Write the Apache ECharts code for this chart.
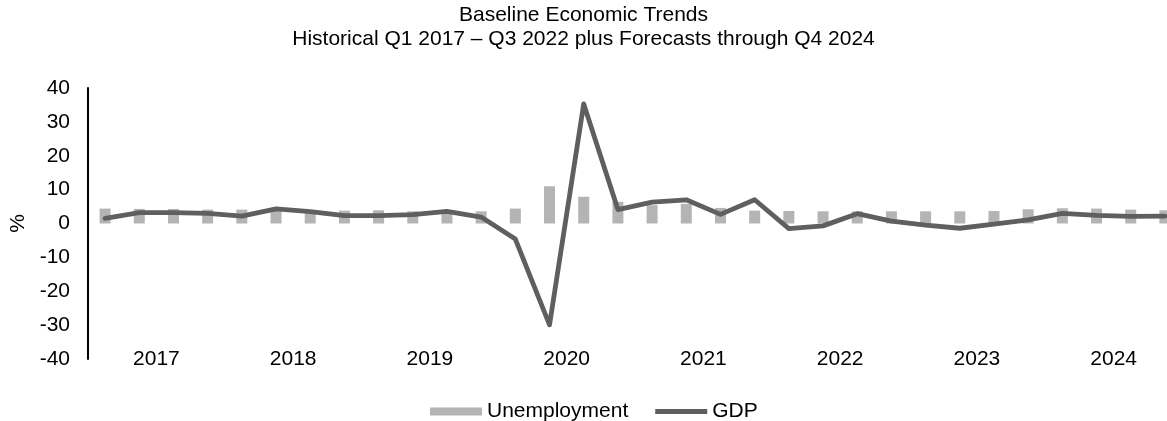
<!DOCTYPE html>
<html>
<head>
<meta charset="utf-8">
<script src="https://cdn.jsdelivr.net/npm/echarts@6/dist/echarts.min.js"></script>
<style>
  html, body { margin: 0; padding: 0; background: #fff; }
  #chart { width: 1167px; height: 421px; }
</style>
</head>
<body>
<div id="chart"></div>
<script>
// Quarterly series, Q1 2017 – Q4 2024 (32 quarters)
const years = ['2017', '2018', '2019', '2020', '2021', '2022', '2023', '2024'];
const quarters = [];
years.forEach(y => { for (let q = 1; q <= 4; q++) quarters.push('Q' + q + ' ' + y); });

// Unemployment rate, %
const unemployment = [
  4.4, 4.3, 4.3, 4.1,
  4.1, 3.9, 3.8, 3.8,
  3.9, 3.6, 3.6, 3.6,
  4.4, 11.0, 7.9, 6.4,
  5.4, 5.8, 4.6, 3.8,
  3.7, 3.6, 3.6, 3.6,
  3.6, 3.6, 3.7, 4.2,
  4.5, 4.4, 4.1, 3.9
];

// Real GDP growth, annualized %
const gdp = [
  1.5, 3.2, 3.2, 3.0,
  2.2, 4.3, 3.5, 2.3,
  2.3, 2.6, 3.6, 1.9,
  -4.6, -29.9, 35.3, 4.1,
  6.3, 7.0, 2.7, 7.0,
  -1.5, -0.7, 2.9, 0.7,
  -0.5, -1.4, -0.2, 1.1,
  3.0, 2.4, 2.1, 2.2
];

const yTicks = { min: -40, max: 40, interval: 10 };

const FONT = '"Liberation Sans", Arial, sans-serif';
const FS = 21;
const chart = echarts.init(document.getElementById('chart'), null, { renderer: 'canvas' });

chart.setOption({
  animation: false,
  backgroundColor: '#ffffff',
  textStyle: { fontFamily: FONT, color: '#000' },
  title: {
    text: 'Baseline Economic Trends\nHistorical Q1 2017 – Q3 2022 plus Forecasts through Q4 2024',
    left: 'center',
    top: 3,
    padding: 0,
    textStyle: { fontFamily: FONT, fontSize: FS, fontWeight: 'normal', color: '#000', lineHeight: 24 }
  },
  legend: {
    left: 430,
    top: 401,
    padding: 0,
    itemGap: 27,
    itemWidth: 52,
    itemHeight: 8,
    textStyle: { fontFamily: FONT, fontSize: FS, color: '#000' },
    data: [
      { name: 'Unemployment', icon: 'rect' },
      { name: 'GDP', icon: 'path://M0,0H52V5H0Z', itemStyle: { color: '#5f5f5f' } }
    ]
  },
  grid: { left: 88, top: 88, width: 1094, height: 271, containLabel: false, outerBoundsMode: 'none' },
  xAxis: [
    {
      type: 'category',
      position: 'bottom',
      data: quarters,
      axisLine: { show: false },
      axisTick: { show: false },
      axisLabel: { show: false },
      splitLine: { show: false }
    },
    {
      type: 'category',
      position: 'bottom',
      data: years,
      axisLine: { show: false },
      axisTick: { show: false },
      splitLine: { show: false },
      axisLabel: { fontFamily: FONT, fontSize: FS, color: '#000', margin: 0, verticalAlign: 'middle' }
    }
  ],
  yAxis: {
    type: 'value',
    min: yTicks.min,
    max: yTicks.max,
    interval: yTicks.interval,
    name: '%',
    nameLocation: 'middle',
    nameGap: 59,
    nameRotate: 90,
    nameTextStyle: { fontFamily: FONT, fontSize: FS, color: '#000' },
    axisLine: { show: true, lineStyle: { color: '#000', width: 2 } },
    axisTick: { show: false },
    splitLine: { show: false },
    axisLabel: { fontFamily: FONT, fontSize: FS, color: '#000', margin: 18 }
  },
  series: [
    {
      name: 'Unemployment',
      type: 'bar',
      xAxisIndex: 0,
      data: unemployment,
      barWidth: 11,
      itemStyle: { color: '#b4b4b4' }
    },
    {
      name: 'GDP',
      type: 'line',
      xAxisIndex: 0,
      data: gdp,
      symbol: 'none',
      lineStyle: { color: '#5f5f5f', width: 4.8, join: 'round', cap: 'round' },
      itemStyle: { color: '#5f5f5f' },
      z: 3
    }
  ]
});
</script>
</body>
</html>
